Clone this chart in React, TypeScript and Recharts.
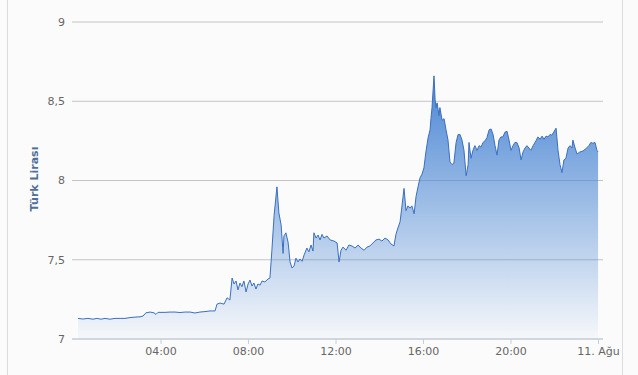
import React from 'react';
import { AreaChart, Area, XAxis, YAxis, CartesianGrid } from 'recharts';

const hours: number[] = [
  0.21, 0.43, 0.66, 0.89, 1.07, 1.26, 1.44, 1.67, 1.9, 2.13, 2.35, 2.58, 2.81, 3.04, 3.18, 3.31, 3.5, 3.68, 3.77, 3.86,
  4.18, 4.41, 4.64, 4.87, 5.1, 5.33, 5.55, 5.78, 6.01, 6.24, 6.47, 6.56, 6.7, 6.88, 7.02, 7.15, 7.25, 7.34, 7.43, 7.52,
  7.61, 7.7, 7.79, 7.89, 7.98, 8.07, 8.16, 8.25, 8.34, 8.43, 8.53, 8.62, 8.75, 8.89, 8.98, 9.07, 9.17, 9.3, 9.39, 9.49,
  9.58, 9.62, 9.71, 9.81, 9.9, 9.99, 10.08, 10.17, 10.26, 10.35, 10.45, 10.54, 10.67, 10.76, 10.86, 10.95, 10.99, 11.09, 11.18, 11.27,
  11.36, 11.45, 11.59, 11.73, 11.91, 12.05, 12.14, 12.23, 12.32, 12.46, 12.59, 12.73, 12.87, 13.01, 13.14, 13.28, 13.42, 13.55, 13.69, 13.83,
  13.97, 14.1, 14.24, 14.38, 14.51, 14.65, 14.74, 14.83, 14.93, 15.02, 15.11, 15.2, 15.29, 15.38, 15.47, 15.57, 15.66, 15.75, 15.84, 15.93,
  16.02, 16.11, 16.21, 16.3, 16.34, 16.39, 16.48, 16.53, 16.57, 16.62, 16.71, 16.75, 16.85, 16.94, 17.03, 17.12, 17.21, 17.3, 17.39, 17.49,
  17.58, 17.67, 17.76, 17.85, 17.95, 18.04, 18.08, 18.17, 18.26, 18.35, 18.45, 18.54, 18.63, 18.72, 18.81, 18.9, 19.0, 19.09, 19.18, 19.27,
  19.36, 19.45, 19.54, 19.63, 19.73, 19.82, 19.91, 20.0, 20.09, 20.18, 20.27, 20.37, 20.46, 20.55, 20.64, 20.73, 20.82, 20.91, 21.01, 21.14,
  21.23, 21.33, 21.42, 21.51, 21.6, 21.69, 21.78, 21.87, 21.97, 22.06, 22.15, 22.24, 22.33, 22.42, 22.51, 22.61, 22.7, 22.79, 22.83, 22.93,
  23.02, 23.15, 23.29, 23.42, 23.56, 23.65, 23.74, 23.84, 23.93, 23.98,
];

const rates: number[] = [
  7.13, 7.126, 7.13, 7.125, 7.13, 7.125, 7.13, 7.125, 7.13, 7.13, 7.13, 7.135, 7.138, 7.14, 7.145, 7.165, 7.17, 7.165, 7.155, 7.168,
  7.168, 7.17, 7.17, 7.167, 7.17, 7.17, 7.164, 7.17, 7.173, 7.177, 7.177, 7.22, 7.227, 7.22, 7.26, 7.246, 7.385, 7.347, 7.366, 7.31,
  7.353, 7.33, 7.366, 7.297, 7.347, 7.372, 7.334, 7.353, 7.315, 7.347, 7.34, 7.366, 7.36, 7.378, 7.385, 7.56, 7.78, 7.96, 7.795, 7.72,
  7.54, 7.65, 7.67, 7.61, 7.486, 7.448, 7.46, 7.51, 7.486, 7.505, 7.49, 7.53, 7.574, 7.55, 7.593, 7.555, 7.67, 7.637, 7.656, 7.625,
  7.66, 7.637, 7.65, 7.625, 7.618, 7.606, 7.486, 7.56, 7.58, 7.56, 7.593, 7.587, 7.574, 7.593, 7.574, 7.56, 7.58, 7.587, 7.606, 7.625,
  7.63, 7.618, 7.637, 7.625, 7.6, 7.587, 7.66, 7.7, 7.74, 7.845, 7.95, 7.81, 7.84, 7.826, 7.84, 7.79, 7.9, 7.96, 8.016, 8.04,
  8.08, 8.18, 8.27, 8.32, 8.39, 8.46, 8.66, 8.51, 8.46, 8.49, 8.41, 8.46, 8.38, 8.39, 8.32, 8.255, 8.117, 8.1, 8.11, 8.24,
  8.29, 8.29, 8.255, 8.19, 8.03, 8.1, 8.24, 8.14, 8.19, 8.22, 8.19, 8.22, 8.21, 8.24, 8.25, 8.27, 8.32, 8.325, 8.29, 8.22,
  8.16, 8.255, 8.275, 8.275, 8.306, 8.31, 8.255, 8.19, 8.22, 8.24, 8.24, 8.205, 8.13, 8.18, 8.205, 8.22, 8.205, 8.19, 8.22, 8.25,
  8.275, 8.26, 8.28, 8.26, 8.28, 8.275, 8.29, 8.286, 8.31, 8.33, 8.19, 8.1, 8.05, 8.13, 8.14, 8.205, 8.22, 8.205, 8.255, 8.205,
  8.167, 8.18, 8.186, 8.2, 8.22, 8.24, 8.235, 8.24, 8.19, 8.18,
];

const xTicks: number[] = [4, 8, 12, 16, 20, 24];
const xTickLabels: string[] = ['04:00', '08:00', '12:00', '16:00', '20:00', '11. Ağu'];
const yTicks: number[] = [7, 7.5, 8, 8.5, 9];

const data = hours.map((h, i) => ({ h, v: rates[i] }));

const font = '"DejaVu Sans", Verdana, sans-serif';

export default function App() {
  return (
    <div style={{ position: 'absolute', left: 0, top: 0, width: 638, height: 375, background: '#fbfbfb', overflow: 'hidden', fontFamily: font }}>
      <div style={{ position: 'absolute', left: 7, top: 0, width: 614, height: 375, borderLeft: '1px solid #dcdcdc', borderRight: '1px solid #dcdcdc' }} />
      <div style={{ position: 'absolute', left: 0, top: 0 }}>
        <AreaChart width={638} height={375} data={data} margin={{ top: 22, right: 35, bottom: 6, left: 10 }}>
          <defs>
            <linearGradient id="fillGrad" x1="0" y1="0" x2="0" y2="1">
              <stop offset="0%" stopColor="#4a86d4" stopOpacity={1} />
              <stop offset="100%" stopColor="#4a86d4" stopOpacity={0.03} />
            </linearGradient>
          </defs>
          <CartesianGrid vertical={false} stroke="#c4c4c4" strokeWidth={1} />
          <XAxis
            dataKey="h"
            type="number"
            domain={[0, 24]}
            ticks={xTicks}
            tickFormatter={(t: number) => xTickLabels[xTicks.indexOf(t)] ?? ''}
            height={30}
            padding={{ left: 1.5, right: 4.5 }}
            stroke="#c0d0e0"
            tickSize={5}
            tickMargin={3}
            tick={{ fill: '#666666', fontSize: 11, fontFamily: font }}
            interval={0}
          />
          <YAxis
            type="number"
            domain={[7, 9]}
            ticks={yTicks}
            width={62}
            axisLine={false}
            tickLine={false}
            tickSize={6}
            tickMargin={1}
            tickFormatter={(t: number) => String(t).replace('.', ',')}
            tick={{ fill: '#666666', fontSize: 11, fontFamily: font }}
            interval={0}
          />
          <Area
            type="linear"
            dataKey="v"
            stroke="#3a6fc0"
            strokeWidth={1}
            fill="url(#fillGrad)"
            fillOpacity={1}
            baseValue={7}
            dot={false}
            activeDot={false}
            isAnimationActive={false}
          />
        </AreaChart>
      </div>
      <div
        style={{
          position: 'absolute',
          left: 34,
          top: 179,
          transform: 'translate(-50%, -50%) rotate(-90deg)',
          whiteSpace: 'nowrap',
          fontSize: 11,
          fontWeight: 'bold',
          color: '#4d6f98',
          fontFamily: font,
        }}
      >
        Türk Lirası
      </div>
    </div>
  );
}
